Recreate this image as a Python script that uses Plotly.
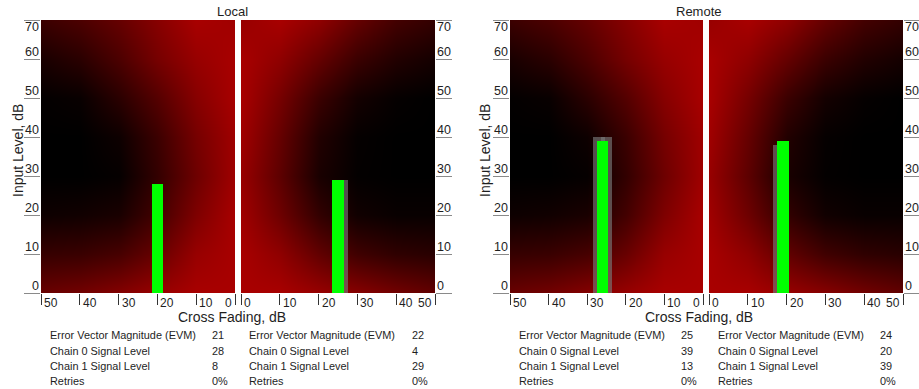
import plotly.graph_objects as go

# ---- data ------------------------------------------------------------------------
CROSS_FADING = [0, 10, 20, 30, 40, 50]
INPUT_LEVEL = [0, 10, 20, 30, 40, 50, 60, 70]

# background shading (0 = black, 1 = full red); rows = input level, cols = cross fading
CHAIN0_SHADE = [
    [1.00, 1.00, 0.90, 0.78, 0.68, 0.62],
    [1.00, 0.90, 0.62, 0.42, 0.34, 0.32],
    [1.00, 0.75, 0.40, 0.15, 0.10, 0.08],
    [0.95, 0.65, 0.30, 0.03, 0.00, 0.00],
    [0.95, 0.70, 0.35, 0.08, 0.00, 0.00],
    [1.00, 0.80, 0.50, 0.25, 0.05, 0.02],
    [1.00, 0.90, 0.70, 0.45, 0.25, 0.15],
    [0.95, 1.00, 0.80, 0.60, 0.45, 0.35],
]
CHAIN1_SHADE = [
    [1.00, 1.00, 0.90, 0.80, 0.68, 0.58],
    [1.00, 0.85, 0.58, 0.38, 0.28, 0.24],
    [0.95, 0.65, 0.30, 0.10, 0.05, 0.05],
    [0.90, 0.55, 0.15, 0.02, 0.00, 0.00],
    [0.95, 0.60, 0.20, 0.03, 0.00, 0.00],
    [1.00, 0.70, 0.35, 0.12, 0.03, 0.00],
    [1.00, 0.85, 0.60, 0.35, 0.20, 0.12],
    [0.90, 1.00, 0.85, 0.60, 0.40, 0.30],
]

# current signal bar per panel: Local ch0, Local ch1, Remote ch0, Remote ch1
BAR_FADING = [20, 25, 26, 19]
BAR_LEVEL = [28, 29, 39, 39]
# previous readings drawn in grey behind the current bar
HISTORY_FADING = [[20], [26], [25, 27], [18]]
HISTORY_LEVEL = [[28], [29], [40, 40], [38]]

METRIC_NAMES = [
    "Error Vector Magnitude (EVM)",
    "Chain 0 Signal Level",
    "Chain 1 Signal Level",
    "Retries",
]
LOCAL_CHAIN0_STATS = ["21", "28", "8", "0%"]
LOCAL_CHAIN1_STATS = ["22", "4", "29", "0%"]
REMOTE_CHAIN0_STATS = ["25", "39", "13", "0%"]
REMOTE_CHAIN1_STATS = ["24", "20", "39", "0%"]

# ---- styling ---------------------------------------------------------------------
W, H = 919, 389
FONT = "Liberation Sans, Arial, sans-serif"
TEXT = "#1e1e1e"
SHADE_SCALE = [[0.0, "#000000"], [1.0, "#A80000"]]
GREEN = "#00FF00"
GREY = "rgba(120, 120, 120, 0.65)"
PLOT_TOP, PLOT_BOTTOM = 20, 293


def fx(px):
    return px / W


def fy(px):
    return 1 - px / H


PANELS = [
    {"x0": 41, "x1": 235, "rev": True, "side": "left", "shade": CHAIN0_SHADE},
    {"x0": 241, "x1": 435, "rev": False, "side": "right", "shade": CHAIN1_SHADE},
    {"x0": 510, "x1": 703, "rev": True, "side": "left", "shade": CHAIN0_SHADE},
    {"x0": 709, "x1": 903, "rev": False, "side": "right", "shade": CHAIN1_SHADE},
]

fig = go.Figure()


def label(text, x, y, size=12, xref="paper", yref="paper", **kw):
    kw.setdefault("xanchor", "center")
    kw.setdefault("yanchor", "middle")
    fig.add_annotation(
        text=text, x=x, y=y, xref=xref, yref=yref, showarrow=False,
        font={"family": FONT, "size": size, "color": TEXT}, **kw,
    )


for i, p in enumerate(PANELS):
    n = i + 1
    xa = "x" if n == 1 else f"x{n}"
    ya = "y" if n == 1 else f"y{n}"
    fig.add_trace(go.Heatmap(
        x=CROSS_FADING, y=INPUT_LEVEL, z=p["shade"], zmin=0, zmax=1,
        zsmooth="best", colorscale=SHADE_SCALE, showscale=False,
        hoverinfo="skip", xaxis=xa, yaxis=ya,
    ))
    fig.add_trace(go.Bar(
        x=HISTORY_FADING[i], y=HISTORY_LEVEL[i], width=3,
        marker={"color": GREY, "line": {"width": 0}}, xaxis=xa, yaxis=ya,
    ))
    fig.add_trace(go.Bar(
        x=[BAR_FADING[i]], y=[BAR_LEVEL[i]], width=3,
        marker={"color": GREEN, "line": {"width": 0}}, xaxis=xa, yaxis=ya,
    ))

    fig.update_layout(**{
        "xaxis" if n == 1 else f"xaxis{n}": {
            "domain": [fx(p["x0"]), fx(p["x1"])],
            "range": [50, 0] if p["rev"] else [0, 50],
            "anchor": ya, "tickvals": CROSS_FADING, "showticklabels": False,
            "ticks": "outside", "ticklen": 11, "tickcolor": "#333333",
            "showgrid": False, "zeroline": False, "showline": False,
        },
        "yaxis" if n == 1 else f"yaxis{n}": {
            "domain": [fy(PLOT_BOTTOM), fy(PLOT_TOP)], "range": [0, 70],
            "anchor": xa, "side": p["side"], "tickvals": INPUT_LEVEL,
            "showticklabels": False, "ticks": "outside", "ticklen": 16,
            "tickcolor": "#8a8a8a", "showgrid": False, "zeroline": False,
        },
    })

    # x tick labels sit beside the tick line; the one at the inner end flips over
    end_value = 0 if p["rev"] else 50
    for v in CROSS_FADING:
        at_end = v == end_value
        label(str(v), v, 0, xref=xa, yref=f"{ya} domain",
              xanchor="right" if at_end else "left", yanchor="top",
              xshift=-1 if at_end else 1, yshift=-1)
    # y tick labels sit on top of the tick line (below it for the top value)
    left = p["side"] == "left"
    for v in INPUT_LEVEL:
        top = v == INPUT_LEVEL[-1]
        label(str(v), 0 if left else 1, v, size=12.5, xref=f"{xa} domain", yref=ya,
              xanchor="right" if left else "left",
              yanchor="top" if top else "bottom", yshift=2 if top else -2)

# titles and axis names
for name, cx, ytx in (("Local", 232, 18), ("Remote", 699, 485)):
    label(name, fx(cx), fy(11.5), size=13)
    label("Cross Fading, dB", fx(cx), fy(317), size=14)
    label("Input Level, dB", fx(ytx), fy(151), size=14, textangle=-90)

# stats tables
TABLES = [
    (LOCAL_CHAIN0_STATS, 48, 210),
    (LOCAL_CHAIN1_STATS, 247, 410),
    (REMOTE_CHAIN0_STATS, 517, 679),
    (REMOTE_CHAIN1_STATS, 716, 878),
]
ROW_Y = [335, 350.5, 366, 381]
for stats, name_x, value_x in TABLES:
    for metric, value, ry in zip(METRIC_NAMES, stats, ROW_Y):
        label(metric, fx(name_x), fy(ry), size=10.9, xanchor="left")
        label(value, fx(value_x), fy(ry), size=10.9, xanchor="left")

fig.update_layout(
    width=W, height=H,
    margin={"l": 0, "r": 0, "t": 0, "b": 0, "pad": 0, "autoexpand": False},
    barmode="overlay", showlegend=False, bargap=0,
    plot_bgcolor="white", paper_bgcolor="white",
    font={"family": FONT, "color": TEXT},
)
# drop the browser's default body margin so the figure sits at the page origin
fig.write_html(
    "out.html",
    config={"displayModeBar": False},
    post_script="document.body.style.margin = '0';",
)
